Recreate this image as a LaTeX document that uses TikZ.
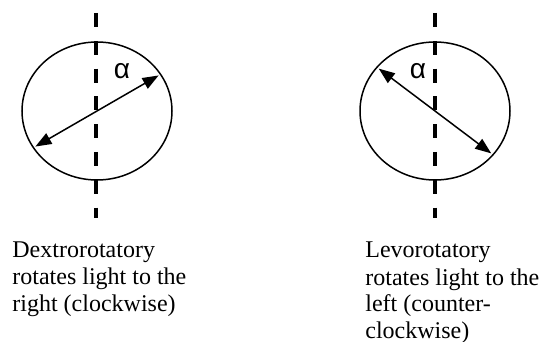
\documentclass[tikz,border=0pt]{standalone}
\usepackage{fontspec}
\setmainfont{Liberation Serif}
\newfontfamily\alphafont{Liberation Sans}
\usetikzlibrary{arrows.meta,positioning,shapes.geometric}

\begin{document}
\begin{tikzpicture}[
  x=0.5pt,y=-0.5pt,
  every node/.style={font=\fontsize{12}{13.5}\selectfont},
  lens/.style={draw,ellipse,line width=0.75pt,minimum width=75pt,minimum height=69pt,inner sep=0pt},
  axis/.style={line width=1.7pt,dash pattern=on 7pt off 6.9pt},
  polar/.style={line width=0.75pt,{Triangle[length=8pt,width=6pt]}-{Triangle[length=8pt,width=6pt]},
                shorten <=1.5pt,shorten >=1.5pt},
  anglabel/.style={font=\alphafont\fontsize{14}{14}\selectfont,inner sep=0pt},
  caption/.style={anchor=base west,align=left,inner sep=0pt},
]
  \useasboundingbox (0,0) rectangle (542,342);
  % Dextrorotatory
  \node[lens] (dex) at (97,111) {};
  \coordinate (dextop) at (96,13);
  \coordinate (dexbot) at (96,218);
  \draw[axis] (dextop) -- (dexbot);
  \draw[polar] (dex.210) -- (dex.30);
  \node[anglabel] (dexalpha) at (122,71) {α};
  \node[caption] (dexlabel) at (12,312) {Dextrorotatory\\rotates light to the\\right (clockwise)};
  % Levorotatory
  \node[lens] (levo) at (435,111) {};
  \coordinate (levotop) at (435,13);
  \coordinate (levobot) at (435,218);
  \draw[axis] (levotop) -- (levobot);
  \draw[polar] (levo.143) -- (levo.323);
  \node[anglabel] (levoalpha) at (418,71) {α};
  \node[caption] (levolabel) at (365,339) {Levorotatory\\rotates light to the\\left (counter-\\clockwise)};
\end{tikzpicture}
\end{document}
